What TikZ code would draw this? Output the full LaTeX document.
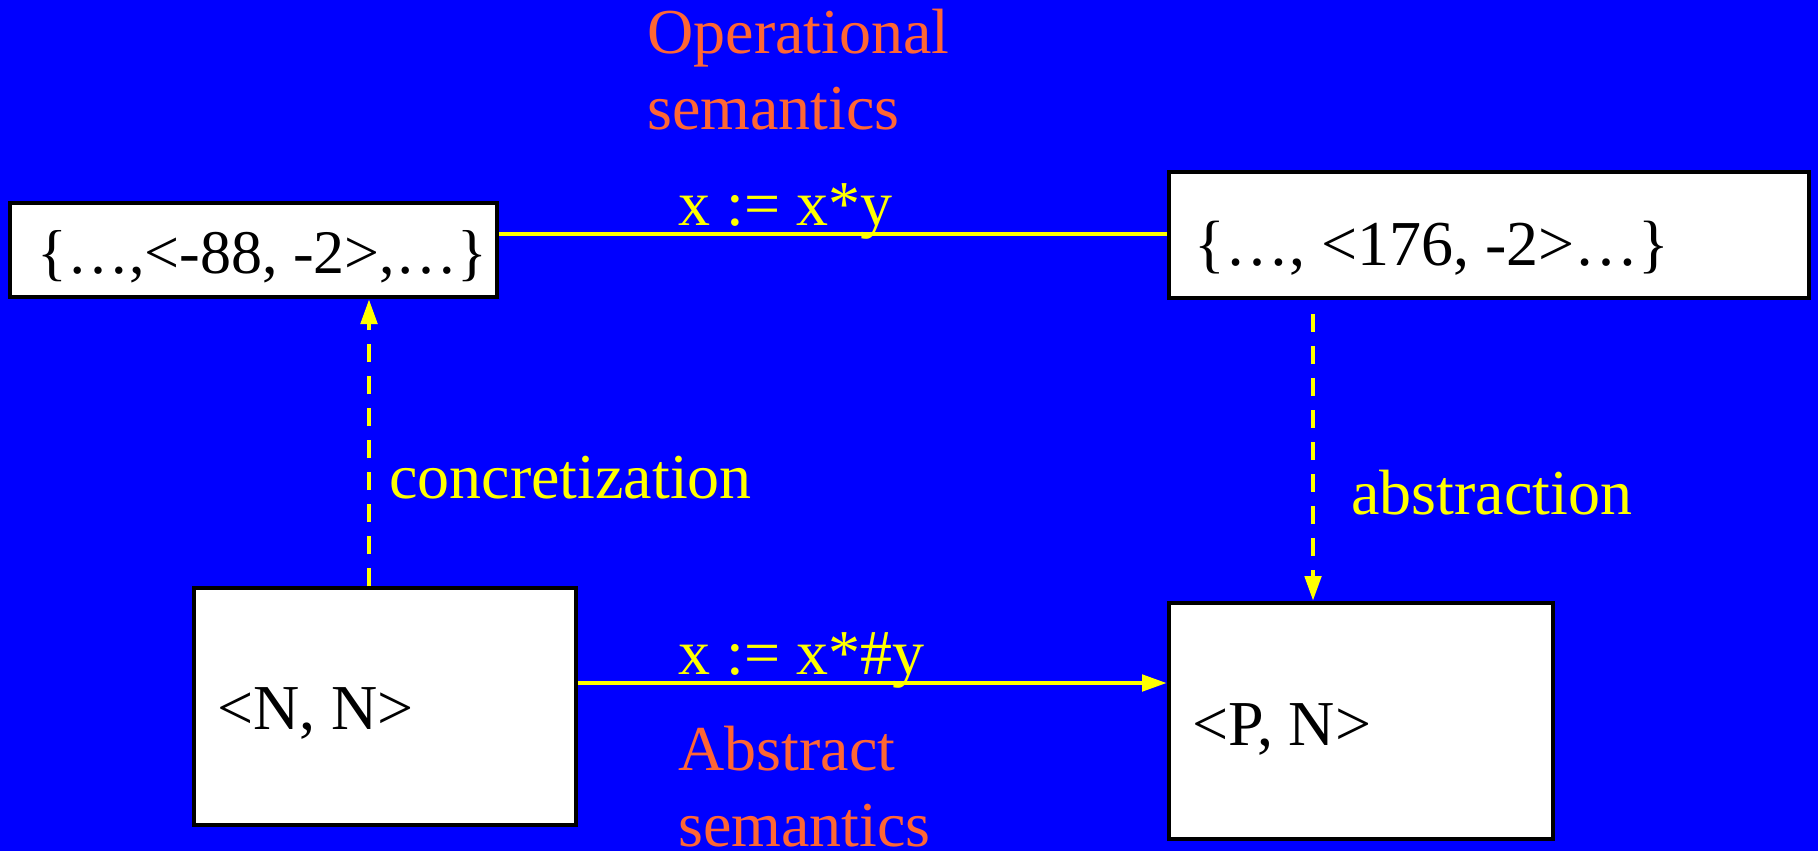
\documentclass[tikz,border=0pt]{standalone}
\usepackage{fontspec}
\setmainfont{Liberation Serif}
\usetikzlibrary{arrows.meta}
\definecolor{bg}{RGB}{0,0,255}
\definecolor{ylw}{RGB}{255,255,0}
\definecolor{org}{RGB}{255,102,51}
\begin{document}
\begin{tikzpicture}[x=0.5pt,y=-0.5pt,
  box/.style={draw=black, fill=white, line width=2pt, inner sep=0pt, anchor=north west},
  lbl/.style={anchor=base west, inner sep=0pt, font=\fontsize{32}{38}\selectfont},
  conn/.style={draw=ylw, line width=2.4pt},
  tip/.style={-{Triangle[length=12.5pt,width=8pt]}},
  dsh/.style={dash pattern=on 9pt off 7pt}]
\fill[bg] (0,0) rectangle (1818,851);
\useasboundingbox (0,0) rectangle (1818,851);
% boxes
\node[box, minimum width=243.5pt, minimum height=47pt] (A) at (8,201) {};
\node[box, minimum width=320pt, minimum height=63pt] (B) at (1167,170) {};
\node[box, minimum width=191pt, minimum height=118.5pt] (C) at (192,586) {};
\node[box, minimum width=192pt, minimum height=118pt] (D) at (1167,601) {};
% box texts
\node[lbl, font=\fontsize{31}{38}\selectfont] (ta) at (37,273) {\{…,<-88, -2>,…\}};
\node[lbl] (tb) at (1194,265) {\{…, <176, -2>…\}};
\node[lbl] (tc) at (217,729) {<N, N>};
\node[lbl] (td) at (1192,745) {<P, N>};
% labels
\node[lbl, text=org] (op1) at (647,53) {Operational};
\node[lbl, text=org] (op2) at (647,129) {semantics};
\node[lbl, text=ylw] (l1) at (678,225) {x := x*y};
\node[lbl, text=ylw] (l2) at (678,674) {x := x*\#y};
\node[lbl, text=org] (ab1) at (678,770) {Abstract};
\node[lbl, text=org] (ab2) at (678,846) {semantics};
\node[lbl, text=ylw] (cz) at (389,498) {concretization};
\node[lbl, text=ylw] (az) at (1351,514) {abstraction};
% connectors
\coordinate (yt) at (0,234);
\coordinate (yb) at (0,683);
\coordinate (cx) at (369,0);
\coordinate (as) at (1313,314);
\draw[conn] (A.east |- yt) -- (B.west |- yt);
\draw[conn,tip] (C.east |- yb) -- (D.west |- yb);
\draw[conn,tip,dsh] (C.north -| cx) -- (A.south -| cx);
\draw[conn,tip,dsh] (as) -- (D.north -| as);
\end{tikzpicture}
\end{document}
